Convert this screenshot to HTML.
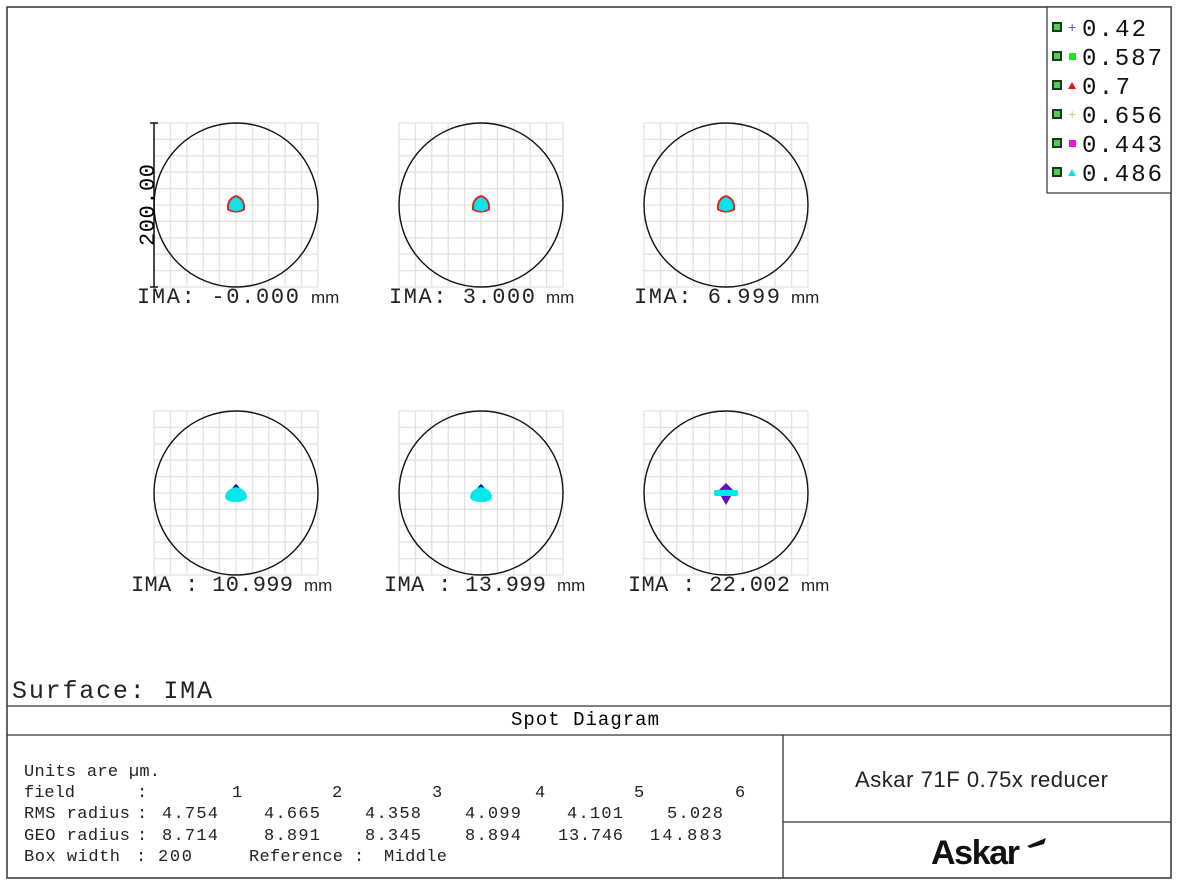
<!DOCTYPE html>
<html><head><meta charset="utf-8"><style>
body{margin:0;background:#fff}
svg{display:block}
.m{font-family:"Liberation Mono",monospace}
</style></head><body>
<svg width="1179" height="888" viewBox="0 0 1179 888" xmlns="http://www.w3.org/2000/svg">
<defs>
<g id="box">
<path d="M-82 -82V82M-65.6 -82V82M-49.2 -82V82M-32.8 -82V82M-16.4 -82V82M0 -82V82M16.4 -82V82M32.8 -82V82M49.2 -82V82M65.6 -82V82M82 -82V82M-82 -82H82M-82 -65.6H82M-82 -49.2H82M-82 -32.8H82M-82 -16.4H82M-82 0H82M-82 16.4H82M-82 32.8H82M-82 49.2H82M-82 65.6H82M-82 82H82" stroke="#e2e2e2" stroke-width="1.3" fill="none"/>
<circle r="82" fill="none" stroke="#111" stroke-width="1.4"/>
</g>
<g id="s1"><path d="M-9 5 Q-10 -7 0 -10 Q10 -7 9 5 Q0 10 -9 5Z" fill="#e02020"/><path d="M-7 4 Q-8 -5 0 -8 Q8 -5 7 4 Q0 8 -7 4Z" fill="#00e8e8"/></g>
<g id="s2"><path d="M-6 0 Q-4 -6 0 -9 Q4 -6 6 0Z" fill="#1010b0"/><path d="M-11 4 Q-10 -4 0 -6 Q10 -4 11 4 Q10 9 0 9 Q-10 9 -11 4Z" fill="#00e8e8"/></g>
<g id="s3"><path d="M0 -10 L8 -2 L0 12 L-8 -2Z" fill="#6010c0"/><path d="M-10 0 Q0 -7 10 0 Q0 6 -10 0Z" fill="#e020e0"/><rect x="-12" y="-3" width="24" height="6" rx="2" fill="#00e8e8"/></g>
</defs>
<rect x="7" y="7" width="1164" height="871" fill="none" stroke="#333" stroke-width="1.5"/>
<use href="#box" x="236" y="205"/><use href="#box" x="481" y="205"/><use href="#box" x="726" y="205"/>
<use href="#box" x="236" y="493"/><use href="#box" x="481" y="493"/><use href="#box" x="726" y="493"/>
<use href="#s1" x="236" y="205"/><use href="#s1" x="481" y="205"/><use href="#s1" x="726" y="205"/>
<use href="#s2" x="236" y="493"/><use href="#s2" x="481" y="493"/><use href="#s3" x="726" y="493"/>
<path d="M154 123V287M150 123H158M150 287H158" stroke="#111" stroke-width="1.5"/>
<text class="m" x="0" y="0" font-size="22" textLength="82" transform="translate(154,205) rotate(-90)" text-anchor="middle">200.00</text>
<g class="m" font-size="22" fill="#222">
<text x="137" y="303" textLength="162">IMA: -0.000</text><text x="311" y="303" font-size="17" font-family="Liberation Sans">mm</text>
<text x="389" y="303" textLength="146">IMA: 3.000</text><text x="546" y="303" font-size="17" font-family="Liberation Sans">mm</text>
<text x="634" y="303" textLength="146">IMA: 6.999</text><text x="791" y="303" font-size="17" font-family="Liberation Sans">mm</text>
<text x="131" y="591" textLength="162">IMA : 10.999</text><text x="304" y="591" font-size="17" font-family="Liberation Sans">mm</text>
<text x="384" y="591" textLength="162">IMA : 13.999</text><text x="557" y="591" font-size="17" font-family="Liberation Sans">mm</text>
<text x="628" y="591" textLength="162">IMA : 22.002</text><text x="801" y="591" font-size="17" font-family="Liberation Sans">mm</text>
<text x="12" y="698" font-size="25" textLength="200">Surface: IMA</text>
</g>
<rect x="1047" y="7" width="124" height="186" fill="#fff" stroke="#333" stroke-width="1.2"/>
<g class="m" font-size="24" fill="#111">
<g transform="translate(1052,27)"><rect x="0" y="-5" width="10" height="10" fill="#1a3a1a"/><rect x="2" y="-3" width="6" height="6" fill="#5c5"/><text x="16" y="5" font-size="14" fill="#55c">+</text><text x="30" y="9" textLength="64">0.42</text></g>
<g transform="translate(1052,56)"><rect x="0" y="-5" width="10" height="10" fill="#1a3a1a"/><rect x="2" y="-3" width="6" height="6" fill="#5c5"/><rect x="17" y="-3" width="7" height="7" fill="#1e1"/><text x="30" y="9" textLength="80">0.587</text></g>
<g transform="translate(1052,85)"><rect x="0" y="-5" width="10" height="10" fill="#1a3a1a"/><rect x="2" y="-3" width="6" height="6" fill="#5c5"/><path d="M16 4L20 -3L24 4Z" fill="#e11"/><text x="30" y="9" textLength="48">0.7</text></g>
<g transform="translate(1052,114)"><rect x="0" y="-5" width="10" height="10" fill="#1a3a1a"/><rect x="2" y="-3" width="6" height="6" fill="#5c5"/><text x="16" y="5" font-size="14" fill="#cc9">+</text><text x="30" y="9" textLength="80">0.656</text></g>
<g transform="translate(1052,143)"><rect x="0" y="-5" width="10" height="10" fill="#1a3a1a"/><rect x="2" y="-3" width="6" height="6" fill="#5c5"/><rect x="17" y="-3" width="7" height="7" fill="#e1e"/><text x="30" y="9" textLength="80">0.443</text></g>
<g transform="translate(1052,172)"><rect x="0" y="-5" width="10" height="10" fill="#1a3a1a"/><rect x="2" y="-3" width="6" height="6" fill="#5c5"/><path d="M16 4L20 -3L24 4Z" fill="#1dd"/><text x="30" y="9" textLength="80">0.486</text></g>
</g>
<path d="M7 706H1171M7 735H1171M783 735V878M783 822H1171" stroke="#333" stroke-width="1.3"/>
<text class="m" x="511" y="725" font-size="19" textLength="148">Spot Diagram</text>
<g class="m" font-size="17" fill="#222">
<text x="24" y="776" textLength="136">Units are µm.</text>
<text x="24" y="797">field</text><text x="137" y="797">:</text>
<text x="232" y="797">1</text><text x="332" y="797">2</text><text x="432" y="797">3</text><text x="535" y="797">4</text><text x="634" y="797">5</text><text x="735" y="797">6</text>
<text x="24" y="818" textLength="106">RMS radius</text><text x="137" y="818">:</text>
<text x="162" y="818" textLength="56">4.754</text><text x="264" y="818" textLength="56">4.665</text><text x="365" y="818" textLength="56">4.358</text><text x="465" y="818" textLength="56">4.099</text><text x="567" y="818" textLength="56">4.101</text><text x="667" y="818" textLength="56">5.028</text>
<text x="24" y="840" textLength="106">GEO radius</text><text x="137" y="840">:</text>
<text x="162" y="840" textLength="56">8.714</text><text x="264" y="840" textLength="56">8.891</text><text x="365" y="840" textLength="56">8.345</text><text x="465" y="840" textLength="56">8.894</text><text x="558" y="840" textLength="65">13.746</text><text x="650" y="840" textLength="72">14.883</text>
<text x="24" y="861" textLength="96">Box width</text><text x="136" y="861">:</text><text x="158" y="861" textLength="34">200</text>
<text x="249" y="861" textLength="94">Reference</text><text x="354" y="861">:</text><text x="384" y="861" textLength="63">Middle</text>
</g>
<text x="855" y="787" font-family="Liberation Sans" font-size="22" textLength="253" fill="#222">Askar 71F 0.75x reducer</text>
<text x="931" y="864" font-family="Liberation Sans" font-weight="bold" font-size="34" textLength="89" fill="#111">Askar</text>
<path d="M1027 846L1046 838L1044 844L1030 848Z" fill="#111"/>
</svg>
</body></html>
